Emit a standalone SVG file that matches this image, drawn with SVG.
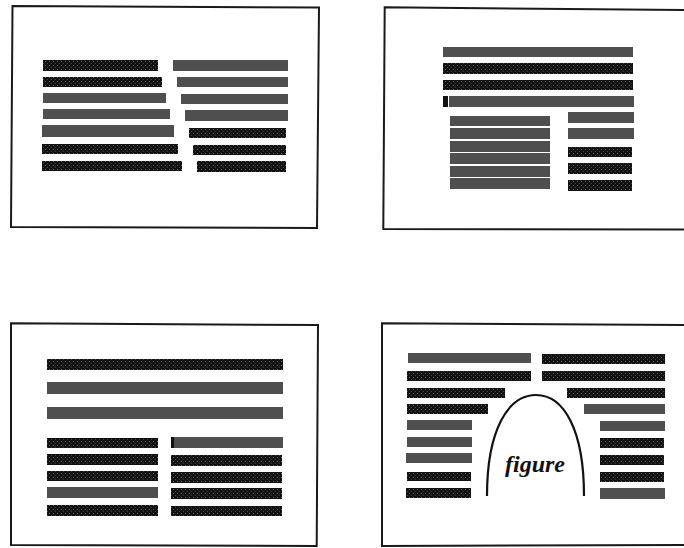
<svg xmlns="http://www.w3.org/2000/svg" width="684" height="548" viewBox="0 0 684 548">
<defs>
<pattern id="dots" width="4" height="4" patternUnits="userSpaceOnUse">
<rect width="4" height="4" fill="#111"/>
<rect x="1" y="1" width="1" height="1" fill="#6e6e6e"/>
<rect x="3" y="3" width="1" height="1" fill="#444"/>
</pattern>
<style>
.frame{fill:none;stroke:#1a1a1a;stroke-width:2;stroke-linejoin:miter}
.b{fill:url(#dots)}
.g{fill:#4f4f4f}
.k{fill:#111}
.arch{fill:none;stroke:#111;stroke-width:2.2}
.lbl{font-family:"Liberation Serif","DejaVu Serif",serif;font-style:italic;font-weight:bold;font-size:24px;fill:#111}
</style>
</defs>
<rect width="684" height="548" fill="#ffffff"/>

<g id="panel1">
<polygon class="frame" points="12.5,6 319,7.5 317,228 11,227"/>
<rect class="b" x="43" y="60" width="115" height="11"/>
<rect class="b" x="43" y="77" width="119" height="10"/>
<rect class="g" x="43" y="93" width="123" height="10"/>
<rect class="g" x="43" y="109" width="127" height="10"/>
<rect class="g" x="42" y="125" width="132" height="12"/>
<rect class="b" x="42" y="144" width="136" height="10"/>
<rect class="b" x="42" y="161" width="140" height="10"/>
<rect class="g" x="173" y="60" width="115" height="11"/>
<rect class="g" x="177" y="77" width="111" height="10"/>
<rect class="g" x="181" y="94" width="107" height="10"/>
<rect class="g" x="185" y="110" width="103" height="11"/>
<rect class="b" x="189" y="128" width="97" height="10"/>
<rect class="b" x="193" y="145" width="93" height="10"/>
<rect class="b" x="197" y="161" width="89" height="11"/>
</g>

<g id="panel2">
<polyline class="frame" points="690,10 384.7,7.3 383.3,229 690,229.5"/>
<rect class="g" x="443" y="47" width="190" height="10"/>
<rect class="b" x="443" y="63" width="190" height="11"/>
<rect class="b" x="443" y="80" width="190" height="10"/>
<rect class="k" x="443" y="96" width="5" height="11"/>
<rect class="g" x="449" y="96" width="185" height="11"/>
<rect class="g" x="450" y="116" width="100" height="10"/>
<rect class="g" x="450" y="128" width="100" height="11"/>
<rect class="g" x="450" y="141" width="100" height="11"/>
<rect class="g" x="450" y="153" width="100" height="11"/>
<rect class="g" x="450" y="166" width="100" height="11"/>
<rect class="g" x="450" y="178" width="100" height="11"/>
<rect class="g" x="568" y="112" width="66" height="11"/>
<rect class="g" x="568" y="128" width="66" height="11"/>
<rect class="b" x="568" y="147" width="64" height="10"/>
<rect class="b" x="568" y="163" width="64" height="11"/>
<rect class="b" x="568" y="180" width="64" height="11"/>
</g>

<g id="panel3">
<polygon class="frame" points="11,323.3 318,325 316.7,546 11,545"/>
<rect class="b" x="47" y="359" width="236" height="11"/>
<rect class="g" x="47" y="382" width="236" height="12"/>
<rect class="g" x="47" y="407" width="236" height="12"/>
<rect class="b" x="47" y="438" width="111" height="10"/>
<rect class="b" x="47" y="454" width="111" height="11"/>
<rect class="b" x="47" y="471" width="111" height="10"/>
<rect class="g" x="47" y="487" width="111" height="11"/>
<rect class="b" x="47" y="505" width="111" height="11"/>
<rect class="k" x="171" y="437" width="3" height="11"/>
<rect class="g" x="174" y="437" width="109" height="11"/>
<rect class="b" x="171" y="455" width="111" height="11"/>
<rect class="b" x="171" y="472" width="111" height="11"/>
<rect class="b" x="171" y="488" width="111" height="11"/>
<rect class="b" x="171" y="506" width="111" height="10"/>
</g>

<g id="panel4">
<polyline class="frame" points="690,325 382,323.3 382,546 690,545"/>
<rect class="g" x="408" y="353" width="123" height="10"/>
<rect class="b" x="407" y="371" width="124" height="10"/>
<rect class="b" x="407" y="388" width="98" height="10"/>
<rect class="b" x="407" y="404" width="81" height="10"/>
<rect class="g" x="407" y="420" width="65" height="10"/>
<rect class="g" x="407" y="437" width="65" height="10"/>
<rect class="g" x="406" y="453" width="66" height="10"/>
<rect class="b" x="407" y="472" width="64" height="9"/>
<rect class="b" x="406" y="488" width="65" height="10"/>
<rect class="b" x="542" y="354" width="123" height="10"/>
<rect class="b" x="542" y="371" width="123" height="10"/>
<rect class="b" x="567" y="388" width="98" height="10"/>
<rect class="g" x="584" y="404" width="81" height="10"/>
<rect class="g" x="600" y="421" width="65" height="10"/>
<rect class="b" x="600" y="438" width="64" height="10"/>
<rect class="b" x="600" y="455" width="64" height="10"/>
<rect class="b" x="600" y="472" width="64" height="10"/>
<rect class="g" x="600" y="488" width="65" height="11"/>
<path class="arch" d="M487,496 C487,430 508,395 536,395 C564,395 584,430 584,496"/>
<text class="lbl" x="535" y="472" text-anchor="middle">figure</text>
</g>
</svg>
